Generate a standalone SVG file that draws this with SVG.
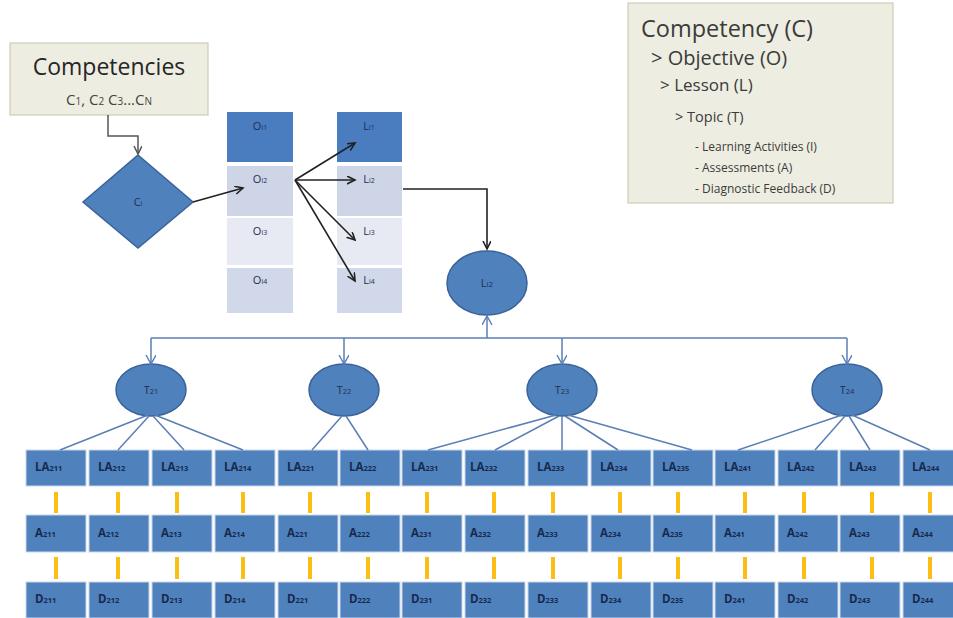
<svg xmlns="http://www.w3.org/2000/svg" width="953" height="618" viewBox="0 0 953 618">
<defs>
<style>
.sans{font-family:"Open Sans","Liberation Sans",sans-serif;}
.beige{fill:#eeede2;stroke:#cfcdb4;stroke-width:1.2;}
.blue{fill:#4f81bd;stroke:#3a639a;stroke-width:1.5;}
.cell{fill:#4f81bd;stroke:#c9d7ea;stroke-width:1;}
.lbl{font-family:"Open Sans","Liberation Sans",sans-serif;fill:#172a4d;font-weight:bold;font-size:11.5px;}
.sub{font-size:7.5px;}
.cl{font-family:"Open Sans","Liberation Sans",sans-serif;fill:#1f2f52;font-size:11px;text-anchor:middle;}
.blk{stroke:#222;stroke-width:1.6;fill:none;}
.bl{stroke:#5a7fb6;stroke-width:1.5;fill:none;}
.yel{stroke:#fbbf14;stroke-width:4;}
.leg{font-family:"Open Sans","Liberation Sans",sans-serif;fill:#3b3b3b;}
</style>
<marker id="ab" markerWidth="10" markerHeight="10" refX="8" refY="4" orient="auto" markerUnits="userSpaceOnUse">
<path d="M0,0 L8,4 L0,8" fill="none" stroke="#222" stroke-width="1.6"/>
</marker>
<marker id="ag" markerWidth="10" markerHeight="10" refX="8" refY="4" orient="auto" markerUnits="userSpaceOnUse">
<path d="M0,0 L8,4 L0,8" fill="none" stroke="#555" stroke-width="1.5"/>
</marker>
<marker id="au" markerWidth="12" markerHeight="12" refX="9" refY="5" orient="auto" markerUnits="userSpaceOnUse">
<path d="M0,0 L9,5 L0,10" fill="none" stroke="#5a7fb6" stroke-width="1.4"/>
</marker>
</defs>
<rect width="953" height="618" fill="#ffffff"/>

<g id="legend">
<rect x="628" y="3" width="265" height="200" class="beige"/>
<text class="leg" x="641" y="37" font-size="23.5">Competency (C)</text>
<text class="leg" x="651" y="65" font-size="20">&gt; Objective (O)</text>
<text class="leg" x="660" y="91" font-size="17">&gt; Lesson (L)</text>
<text class="leg" x="675" y="122" font-size="14.5">&gt; Topic (T)</text>
<text class="leg" x="695" y="151" font-size="12">- Learning Activities (I)</text>
<text class="leg" x="695" y="172" font-size="12">- Assessments (A)</text>
<text class="leg" x="695" y="193" font-size="12">- Diagnostic Feedback (D)</text>
</g>

<g id="competencies">
<rect x="10" y="43" width="198" height="72" class="beige"/>
<text class="sans" x="109" y="75" font-size="23" fill="#262626" text-anchor="middle">Competencies</text>
<text class="sans" x="109" y="105" font-size="15" fill="#444" text-anchor="middle">C<tspan font-size="10">1</tspan>, C<tspan font-size="10">2</tspan> C<tspan font-size="10">3</tspan>...C<tspan font-size="10">N</tspan></text>
</g>

<g id="ci">
<polygon points="138,155 193,202 138,248 83,202" class="blue"/>
<text class="cl" x="138" y="206">C<tspan font-size="7">i</tspan></text>
</g>

<g id="objectives">
<g id="oi1"><rect x="227" y="112" width="66" height="50" fill="#4a7cc0"/><text class="cl" x="260" y="130" font-size="10">O<tspan font-size="7">i1</tspan></text></g>
<g id="oi2"><rect x="227" y="166" width="66" height="50" fill="#cdd5e7"/><text class="cl" x="260" y="183" font-size="10">O<tspan font-size="7">i2</tspan></text></g>
<g id="oi3"><rect x="227" y="218" width="66" height="47" fill="#e7eaf3"/><text class="cl" x="260" y="235" font-size="10">O<tspan font-size="7">i3</tspan></text></g>
<g id="oi4"><rect x="227" y="268" width="66" height="45" fill="#d1d8e9"/><text class="cl" x="260" y="284" font-size="10">O<tspan font-size="7">i4</tspan></text></g>
</g>

<g id="lessons">
<g id="li1"><rect x="337" y="112" width="65" height="50" fill="#4a7cc0"/><text class="cl" x="369" y="130" font-size="10">L<tspan font-size="7">i1</tspan></text></g>
<g id="li2"><rect x="337" y="166" width="65" height="50" fill="#cdd5e7"/><text class="cl" x="369" y="183" font-size="10">L<tspan font-size="7">i2</tspan></text></g>
<g id="li3"><rect x="337" y="218" width="65" height="47" fill="#e7eaf3"/><text class="cl" x="369" y="235" font-size="10">L<tspan font-size="7">i3</tspan></text></g>
<g id="li4"><rect x="337" y="268" width="65" height="45" fill="#d1d8e9"/><text class="cl" x="369" y="284" font-size="10">L<tspan font-size="7">i4</tspan></text></g>
</g>

<g id="li2-node">
<ellipse cx="487" cy="283" rx="40" ry="32" class="blue"/>
<text class="cl" x="487" y="287" font-size="12">L<tspan font-size="8">i2</tspan></text>
</g>

<g id="t21"><ellipse cx="151" cy="390" rx="35" ry="26" class="blue"/><text class="cl" x="151" y="394" font-size="10">T<tspan font-size="7.5">21</tspan></text></g>
<g id="t22"><ellipse cx="344" cy="390" rx="35" ry="26" class="blue"/><text class="cl" x="344" y="394" font-size="10">T<tspan font-size="7.5">22</tspan></text></g>
<g id="t23"><ellipse cx="562" cy="390" rx="35" ry="26" class="blue"/><text class="cl" x="562" y="394" font-size="10">T<tspan font-size="7.5">23</tspan></text></g>
<g id="t24"><ellipse cx="847" cy="390" rx="35" ry="26" class="blue"/><text class="cl" x="847" y="394" font-size="10">T<tspan font-size="7.5">24</tspan></text></g>

<g id="la-row">
<g id="la211"><rect x="26" y="450" width="60" height="36" class="cell"/><text class="lbl" x="35" y="471">LA<tspan class="sub">211</tspan></text></g>
<g id="la212"><rect x="89" y="450" width="60" height="36" class="cell"/><text class="lbl" x="98" y="471">LA<tspan class="sub">212</tspan></text></g>
<g id="la213"><rect x="152" y="450" width="60" height="36" class="cell"/><text class="lbl" x="161" y="471">LA<tspan class="sub">213</tspan></text></g>
<g id="la214"><rect x="215" y="450" width="60" height="36" class="cell"/><text class="lbl" x="224" y="471">LA<tspan class="sub">214</tspan></text></g>
<g id="la221"><rect x="278" y="450" width="60" height="36" class="cell"/><text class="lbl" x="287" y="471">LA<tspan class="sub">221</tspan></text></g>
<g id="la222"><rect x="340" y="450" width="60" height="36" class="cell"/><text class="lbl" x="349" y="471">LA<tspan class="sub">222</tspan></text></g>
<g id="la231"><rect x="402" y="450" width="60" height="36" class="cell"/><text class="lbl" x="411" y="471">LA<tspan class="sub">231</tspan></text></g>
<g id="la232"><rect x="465" y="450" width="60" height="36" class="cell"/><text class="lbl" x="470" y="471">LA<tspan class="sub">232</tspan></text></g>
<g id="la233"><rect x="528" y="450" width="60" height="36" class="cell"/><text class="lbl" x="537" y="471">LA<tspan class="sub">233</tspan></text></g>
<g id="la234"><rect x="591" y="450" width="60" height="36" class="cell"/><text class="lbl" x="600" y="471">LA<tspan class="sub">234</tspan></text></g>
<g id="la235"><rect x="653" y="450" width="60" height="36" class="cell"/><text class="lbl" x="662" y="471">LA<tspan class="sub">235</tspan></text></g>
<g id="la241"><rect x="715" y="450" width="60" height="36" class="cell"/><text class="lbl" x="724" y="471">LA<tspan class="sub">241</tspan></text></g>
<g id="la242"><rect x="778" y="450" width="60" height="36" class="cell"/><text class="lbl" x="787" y="471">LA<tspan class="sub">242</tspan></text></g>
<g id="la243"><rect x="840" y="450" width="60" height="36" class="cell"/><text class="lbl" x="849" y="471">LA<tspan class="sub">243</tspan></text></g>
<g id="la244"><rect x="903" y="450" width="52" height="36" class="cell"/><text class="lbl" x="912" y="471">LA<tspan class="sub">244</tspan></text></g>
</g>

<g id="a-row">
<g id="a211"><rect x="26" y="515" width="60" height="37" class="cell"/><text class="lbl" x="35" y="537">A<tspan class="sub">211</tspan></text></g>
<g id="a212"><rect x="89" y="515" width="60" height="37" class="cell"/><text class="lbl" x="98" y="537">A<tspan class="sub">212</tspan></text></g>
<g id="a213"><rect x="152" y="515" width="60" height="37" class="cell"/><text class="lbl" x="161" y="537">A<tspan class="sub">213</tspan></text></g>
<g id="a214"><rect x="215" y="515" width="60" height="37" class="cell"/><text class="lbl" x="224" y="537">A<tspan class="sub">214</tspan></text></g>
<g id="a221"><rect x="278" y="515" width="60" height="37" class="cell"/><text class="lbl" x="287" y="537">A<tspan class="sub">221</tspan></text></g>
<g id="a222"><rect x="340" y="515" width="60" height="37" class="cell"/><text class="lbl" x="349" y="537">A<tspan class="sub">222</tspan></text></g>
<g id="a231"><rect x="402" y="515" width="60" height="37" class="cell"/><text class="lbl" x="411" y="537">A<tspan class="sub">231</tspan></text></g>
<g id="a232"><rect x="465" y="515" width="60" height="37" class="cell"/><text class="lbl" x="470" y="537">A<tspan class="sub">232</tspan></text></g>
<g id="a233"><rect x="528" y="515" width="60" height="37" class="cell"/><text class="lbl" x="537" y="537">A<tspan class="sub">233</tspan></text></g>
<g id="a234"><rect x="591" y="515" width="60" height="37" class="cell"/><text class="lbl" x="600" y="537">A<tspan class="sub">234</tspan></text></g>
<g id="a235"><rect x="653" y="515" width="60" height="37" class="cell"/><text class="lbl" x="662" y="537">A<tspan class="sub">235</tspan></text></g>
<g id="a241"><rect x="715" y="515" width="60" height="37" class="cell"/><text class="lbl" x="724" y="537">A<tspan class="sub">241</tspan></text></g>
<g id="a242"><rect x="778" y="515" width="60" height="37" class="cell"/><text class="lbl" x="787" y="537">A<tspan class="sub">242</tspan></text></g>
<g id="a243"><rect x="840" y="515" width="60" height="37" class="cell"/><text class="lbl" x="849" y="537">A<tspan class="sub">243</tspan></text></g>
<g id="a244"><rect x="903" y="515" width="52" height="37" class="cell"/><text class="lbl" x="912" y="537">A<tspan class="sub">244</tspan></text></g>
</g>

<g id="d-row">
<g id="d211"><rect x="26" y="582" width="60" height="36" class="cell"/><text class="lbl" x="35" y="603">D<tspan class="sub">211</tspan></text></g>
<g id="d212"><rect x="89" y="582" width="60" height="36" class="cell"/><text class="lbl" x="98" y="603">D<tspan class="sub">212</tspan></text></g>
<g id="d213"><rect x="152" y="582" width="60" height="36" class="cell"/><text class="lbl" x="161" y="603">D<tspan class="sub">213</tspan></text></g>
<g id="d214"><rect x="215" y="582" width="60" height="36" class="cell"/><text class="lbl" x="224" y="603">D<tspan class="sub">214</tspan></text></g>
<g id="d221"><rect x="278" y="582" width="60" height="36" class="cell"/><text class="lbl" x="287" y="603">D<tspan class="sub">221</tspan></text></g>
<g id="d222"><rect x="340" y="582" width="60" height="36" class="cell"/><text class="lbl" x="349" y="603">D<tspan class="sub">222</tspan></text></g>
<g id="d231"><rect x="402" y="582" width="60" height="36" class="cell"/><text class="lbl" x="411" y="603">D<tspan class="sub">231</tspan></text></g>
<g id="d232"><rect x="465" y="582" width="60" height="36" class="cell"/><text class="lbl" x="470" y="603">D<tspan class="sub">232</tspan></text></g>
<g id="d233"><rect x="528" y="582" width="60" height="36" class="cell"/><text class="lbl" x="537" y="603">D<tspan class="sub">233</tspan></text></g>
<g id="d234"><rect x="591" y="582" width="60" height="36" class="cell"/><text class="lbl" x="600" y="603">D<tspan class="sub">234</tspan></text></g>
<g id="d235"><rect x="653" y="582" width="60" height="36" class="cell"/><text class="lbl" x="662" y="603">D<tspan class="sub">235</tspan></text></g>
<g id="d241"><rect x="715" y="582" width="60" height="36" class="cell"/><text class="lbl" x="724" y="603">D<tspan class="sub">241</tspan></text></g>
<g id="d242"><rect x="778" y="582" width="60" height="36" class="cell"/><text class="lbl" x="787" y="603">D<tspan class="sub">242</tspan></text></g>
<g id="d243"><rect x="840" y="582" width="60" height="36" class="cell"/><text class="lbl" x="849" y="603">D<tspan class="sub">243</tspan></text></g>
<g id="d244"><rect x="903" y="582" width="52" height="36" class="cell"/><text class="lbl" x="912" y="603">D<tspan class="sub">244</tspan></text></g>
</g>

<g id="connectors">
<polyline points="108,115 108,136 138,136 138,154" fill="none" stroke="#555" stroke-width="1.5" marker-end="url(#ag)"/>
<line x1="193" y1="202" x2="243" y2="188" class="blk" marker-end="url(#ab)"/>
<line x1="295" y1="180" x2="355" y2="143" class="blk" marker-end="url(#ab)"/>
<line x1="295" y1="180" x2="355" y2="180" class="blk" marker-end="url(#ab)"/>
<line x1="295" y1="180" x2="355" y2="240" class="blk" marker-end="url(#ab)"/>
<line x1="295" y1="180" x2="355" y2="281" class="blk" marker-end="url(#ab)"/>
<polyline points="403,189 487,189 487,249" class="blk" marker-end="url(#ab)"/>
<line x1="487" y1="338" x2="487" y2="316" class="bl" marker-end="url(#au)"/>
<line x1="151" y1="338" x2="847" y2="338" class="bl"/>
<line x1="151" y1="338" x2="151" y2="364" class="bl" marker-end="url(#au)"/>
<line x1="344" y1="338" x2="344" y2="364" class="bl" marker-end="url(#au)"/>
<line x1="562" y1="338" x2="562" y2="364" class="bl" marker-end="url(#au)"/>
<line x1="847" y1="338" x2="847" y2="364" class="bl" marker-end="url(#au)"/>
<g class="bl">
<line x1="148" y1="415" x2="60" y2="450"/>
<line x1="149" y1="416" x2="118" y2="450"/>
<line x1="153" y1="416" x2="184" y2="450"/>
<line x1="155" y1="415" x2="243" y2="450"/>
<line x1="342" y1="416" x2="312" y2="450"/>
<line x1="346" y1="416" x2="368" y2="450"/>
<line x1="556" y1="415" x2="428" y2="450"/>
<line x1="559" y1="416" x2="495" y2="450"/>
<line x1="562" y1="416" x2="562" y2="450"/>
<line x1="565" y1="416" x2="618" y2="450"/>
<line x1="568" y1="415" x2="692" y2="450"/>
<line x1="842" y1="415" x2="738" y2="450"/>
<line x1="845" y1="416" x2="815" y2="450"/>
<line x1="849" y1="416" x2="870" y2="450"/>
<line x1="852" y1="415" x2="930" y2="450"/>
</g>
<g class="yel">
<line x1="56" y1="492" x2="56" y2="513"/><line x1="56" y1="557" x2="56" y2="579"/>
<line x1="118" y1="492" x2="118" y2="513"/><line x1="118" y1="557" x2="118" y2="579"/>
<line x1="177" y1="492" x2="177" y2="513"/><line x1="177" y1="557" x2="177" y2="579"/>
<line x1="243" y1="492" x2="243" y2="513"/><line x1="243" y1="557" x2="243" y2="579"/>
<line x1="310" y1="492" x2="310" y2="513"/><line x1="310" y1="557" x2="310" y2="579"/>
<line x1="368" y1="492" x2="368" y2="513"/><line x1="368" y1="557" x2="368" y2="579"/>
<line x1="427" y1="492" x2="427" y2="513"/><line x1="427" y1="557" x2="427" y2="579"/>
<line x1="494" y1="492" x2="494" y2="513"/><line x1="494" y1="557" x2="494" y2="579"/>
<line x1="553" y1="492" x2="553" y2="513"/><line x1="553" y1="557" x2="553" y2="579"/>
<line x1="620" y1="492" x2="620" y2="513"/><line x1="620" y1="557" x2="620" y2="579"/>
<line x1="678" y1="492" x2="678" y2="513"/><line x1="678" y1="557" x2="678" y2="579"/>
<line x1="745" y1="492" x2="745" y2="513"/><line x1="745" y1="557" x2="745" y2="579"/>
<line x1="804" y1="492" x2="804" y2="513"/><line x1="804" y1="557" x2="804" y2="579"/>
<line x1="872" y1="492" x2="872" y2="513"/><line x1="872" y1="557" x2="872" y2="579"/>
<line x1="930" y1="492" x2="930" y2="513"/><line x1="930" y1="557" x2="930" y2="579"/>
</g>
</g>
</svg>
